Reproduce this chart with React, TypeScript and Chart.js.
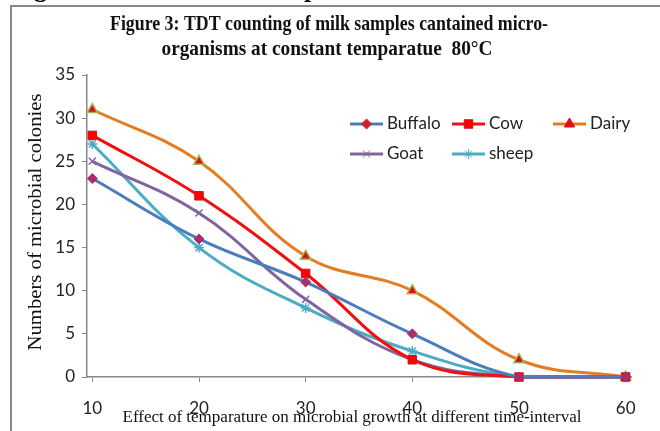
import React, { useEffect, useRef } from 'react';
import { Chart, registerables } from 'chart.js';
import { drawPoint } from 'chart.js/helpers';

Chart.register(...registerables);

const xValues = [10, 20, 30, 40, 50, 60];
const buffalo = [23, 16, 11, 5, 0, 0];
const cow = [28, 21, 12, 2, 0, 0];
const dairy = [31, 25, 14, 10, 2, 0];
const goat = [25, 19, 9, 2, 0, 0];
const sheep = [27, 15, 8, 3, 0, 0];
const yTicks = [0, 5, 10, 15, 20, 25, 30, 35];
const seriesNames = ['Buffalo', 'Cow', 'Dairy', 'Goat', 'sheep'];
const titleLines = ['Figure 3: TDT counting of milk samples cantained micro-', 'organisms at constant temparatue  80\u00B0C'];
const yTitle = 'Numbers of microbial colonies';
const xTitle = 'Effect of temparature on microbial growth at different time-interval';

const W = 660;
const H = 431;

function fitText(ctx: CanvasRenderingContext2D, text: string, cx: number, cy: number, targetW: number, rot = 0) {
  const m = ctx.measureText(text).width;
  ctx.save();
  ctx.translate(cx, cy);
  ctx.rotate(rot);
  ctx.scale(targetW / m, 1);
  ctx.textAlign = 'center';
  ctx.textBaseline = 'middle';
  ctx.fillText(text, 0, 0);
  ctx.restore();
}

const decorPlugin = {
  id: 'decor',
  afterDraw(chart: any) {
    const ctx: CanvasRenderingContext2D = chart.ctx;
    ctx.save();
    // frame
    ctx.strokeStyle = '#888888';
    ctx.lineWidth = 2;
    ctx.beginPath();
    ctx.moveTo(W, 6);
    ctx.lineTo(11, 6);
    ctx.lineTo(11, H);
    ctx.stroke();
    // cropped page text above the frame
    ctx.fillStyle = '#000';
    ctx.font = 'bold 26px "Liberation Serif"';
    ctx.textBaseline = 'alphabetic';
    ctx.textAlign = 'left';
    ctx.fillText('g', 34, -3);
    ctx.fillText('p', 304, -3);
    // title
    ctx.fillStyle = '#111';
    ctx.font = 'bold 22px "Liberation Serif"';
    fitText(ctx, titleLines[0], 329, 24, 438);
    fitText(ctx, titleLines[1], 327, 49, 331);
    // axis titles
    ctx.font = '19px "Liberation Serif"';
    fitText(ctx, yTitle, 36, 222, 257, -Math.PI / 2);
    ctx.font = '16px "Liberation Serif"';
    fitText(ctx, xTitle, 352, 418, 459);
    // legend
    const cols = [350, 452, 553];
    const rows = [124, 154];
    chart.data.datasets.forEach((ds: any, i: number) => {
      const x = cols[i % 3];
      const y = rows[Math.floor(i / 3)];
      ctx.strokeStyle = ds.borderColor;
      ctx.lineWidth = 3;
      ctx.beginPath();
      ctx.moveTo(x, y);
      ctx.lineTo(x + 33, y);
      ctx.stroke();
      ctx.fillStyle = ds.legendMarkerColor || ds.pointBackgroundColor;
      ctx.strokeStyle = ds.legendMarkerColor || ds.pointBorderColor;
      ctx.lineWidth = 1;
      drawPoint(ctx, { pointStyle: ds.pointStyle, radius: ds.pointRadius, rotation: 0, borderWidth: 1 }, x + 16.5, y);
      ctx.fillStyle = '#222';
      ctx.font = '17px Lato';
      ctx.textAlign = 'left';
      ctx.textBaseline = 'middle';
      ctx.fillText(ds.label, x + 37, y);
    });
    ctx.restore();
  },
};

export default function App() {
  const ref = useRef<HTMLCanvasElement>(null);
  useEffect(() => {
    const mk = (vals: number[]) => vals.map((v, i) => ({ x: xValues[i], y: v }));
    const chart = new Chart(ref.current!, {
      type: 'line',
      data: {
        datasets: [
          { label: seriesNames[0], data: mk(buffalo), borderColor: '#4A7EBB', pointStyle: 'rectRot', pointRadius: 5, pointBackgroundColor: '#A8306A', pointBorderColor: '#A8306A', legendMarkerColor: '#D0202A' } as any,
          { label: seriesNames[1], data: mk(cow), borderColor: '#F01010', pointStyle: 'rect', pointRadius: 6, pointBackgroundColor: '#FF0000', pointBorderColor: '#D01020' },
          { label: seriesNames[2], data: mk(dairy), borderColor: '#E47C22', pointStyle: 'triangle', pointRadius: 6, pointBackgroundColor: '#E01010', pointBorderColor: '#9BBB59', pointBorderWidth: 1.5, legendMarkerColor: '#E01010' } as any,
          { label: seriesNames[3], data: mk(goat), borderColor: '#8064A2', pointStyle: 'crossRot', pointRadius: 5, pointBackgroundColor: '#8064A2', pointBorderColor: '#8064A2', pointBorderWidth: 1.5 },
          { label: seriesNames[4], data: mk(sheep), borderColor: '#4BACC6', pointStyle: 'star', pointRadius: 5, pointBackgroundColor: '#4BACC6', pointBorderColor: '#4BACC6', pointBorderWidth: 1.5 },
        ],
      },
      options: {
        responsive: false,
        animation: false,
        devicePixelRatio: 1,
        layout: { padding: { left: 0, top: 75, right: 29, bottom: 0 } },
        elements: {
          line: { borderWidth: 3, tension: 0.4, fill: false },
          point: { borderWidth: 1 },
        },
        datasets: { line: { clip: false } as any },
        plugins: { legend: { display: false }, title: { display: false }, tooltip: { enabled: false } },
        scales: {
          x: {
            type: 'linear',
            min: 9.5,
            max: 60.5,
            afterBuildTicks: (s: any) => { s.ticks = xValues.map((v) => ({ value: v })); },
            afterFit: (s: any) => { s.height = 54; },
            grid: { display: true, drawOnChartArea: false, drawTicks: true, tickLength: 5, color: '#888' },
            border: { display: true, color: '#888', width: 1.5 },
            ticks: { padding: 16, color: '#222', font: { family: 'Lato', size: 17 }, maxRotation: 0, autoSkip: false },
          },
          y: {
            type: 'linear',
            min: 0,
            max: 35,
            afterBuildTicks: (s: any) => { s.ticks = yTicks.map((v) => ({ value: v })); },
            afterFit: (s: any) => { s.width = 87; },
            grid: { display: true, drawOnChartArea: false, drawTicks: true, tickLength: 5, color: '#888' },
            border: { display: true, color: '#888', width: 1.5 },
            ticks: { padding: 7, color: '#222', font: { family: 'Lato', size: 17 } },
          },
        },
      },
      plugins: [decorPlugin],
    });
    return () => chart.destroy();
  }, []);
  return (
    <div style={{ position: 'absolute', left: 0, top: 0, width: W, height: H, background: '#fff' }}>
      <canvas ref={ref} width={W} height={H} style={{ display: 'block' }} />
    </div>
  );
}
